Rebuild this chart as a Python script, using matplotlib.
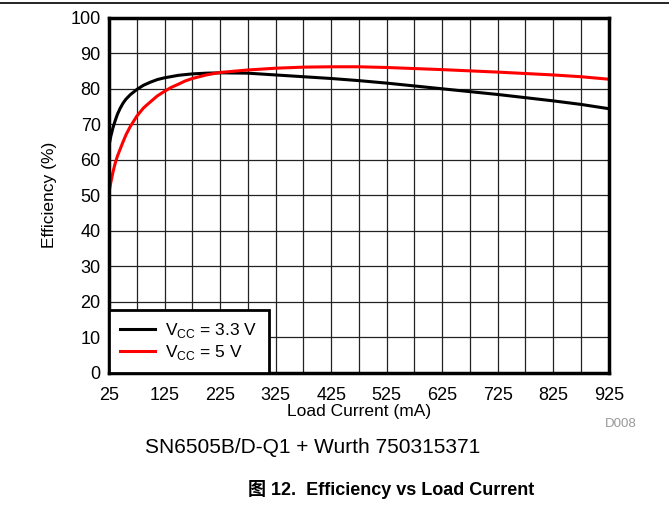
import matplotlib
matplotlib.use('Agg')
import matplotlib.pyplot as plt
from matplotlib.lines import Line2D

plt.rcParams['font.family'] = ['Liberation Sans', 'Noto Sans CJK SC', 'DejaVu Sans']

# load current (mA) and efficiency (%)
load_33 = [25, 28, 32, 36, 40, 45, 50, 55, 63, 75, 87, 100, 112, 125, 150, 175,
           200, 225, 275, 325, 375, 425, 475, 525, 625, 725, 825, 875, 900, 925]
eff_33 = [64.0, 66.5, 69.0, 71.0, 72.8, 74.5, 75.9, 77.0, 78.3, 79.8, 81.0, 81.9,
          82.6, 83.1, 83.8, 84.2, 84.4, 84.5, 84.4, 83.9, 83.4, 82.9, 82.3, 81.6,
          80.0, 78.4, 76.6, 75.6, 75.0, 74.4]

load_5 = [25, 28, 32, 36, 40, 45, 50, 56, 63, 75, 87, 100, 112, 125, 137, 150,
          162, 175, 200, 225, 275, 325, 375, 425, 475, 525, 625, 725, 825, 875, 925]
eff_5 = [51.0, 53.5, 56.5, 59.0, 61.0, 63.0, 65.0, 67.2, 69.3, 72.3, 74.6, 76.4,
         78.0, 79.3, 80.4, 81.3, 82.2, 82.9, 83.9, 84.6, 85.3, 85.8, 86.1, 86.2,
         86.2, 86.0, 85.4, 84.7, 83.9, 83.4, 82.7]

x_ticks = [25, 125, 225, 325, 425, 525, 625, 725, 825, 925]
x_grid = [75, 175, 275, 375, 475, 575, 675, 775, 875]
y_ticks = [0, 10, 20, 30, 40, 50, 60, 70, 80, 90, 100]

fig = plt.figure(figsize=(6.69, 5.08), dpi=100)
ax = fig.add_axes([0.163, 0.266, 0.747, 0.699])

ax.plot(load_33, eff_33, color='black', lw=2.2, label='V$_{\\mathregular{CC}}$ = 3.3 V')
ax.plot(load_5, eff_5, color='#ff0000', lw=2.2, label='V$_{\\mathregular{CC}}$ = 5 V')

ax.set_xlim(25, 925)
ax.set_ylim(0, 100)
ax.set_xticks(x_ticks)
ax.set_xticks(x_grid, minor=True)
ax.set_yticks(y_ticks)
ax.grid(True, which='both', color='#222222', lw=0.9)
ax.set_axisbelow(True)
ax.tick_params(which='both', length=0, labelsize=13, colors='black')
ax.tick_params(axis='x', pad=10)
ax.tick_params(axis='y', pad=6)
for s in ax.spines.values():
    s.set_linewidth(2.5)

ax.set_xlabel('Load Current (mA)', fontsize=12.5, labelpad=0)
ax.set_ylabel('Efficiency (%)', fontsize=12.5, labelpad=10)

leg = ax.legend(loc='lower left', fontsize=12.5, frameon=True, fancybox=False,
                borderaxespad=0, handlelength=2.0, labelspacing=0.15,
                borderpad=0.65, handletextpad=0.6)
leg.get_frame().set_edgecolor('black')
leg.get_frame().set_linewidth(2)
leg.get_frame().set_alpha(1)

fig.text(0.904, 0.165, 'D008', fontsize=9.5, color='#999999', va='center')
fig.text(0.468, 0.12, 'SN6505B/D-Q1 + Wurth 750315371', fontsize=15, ha='center',
         va='center')
fig.text(0.585, 0.025, '图 12.  Efficiency vs Load Current', fontsize=13,
         ha='center', fontweight='bold')
fig.add_artist(Line2D([0, 1], [0.994, 0.994], color='black', lw=1.2,
                      transform=fig.transFigure))

fig.savefig('out.png', dpi=100)
